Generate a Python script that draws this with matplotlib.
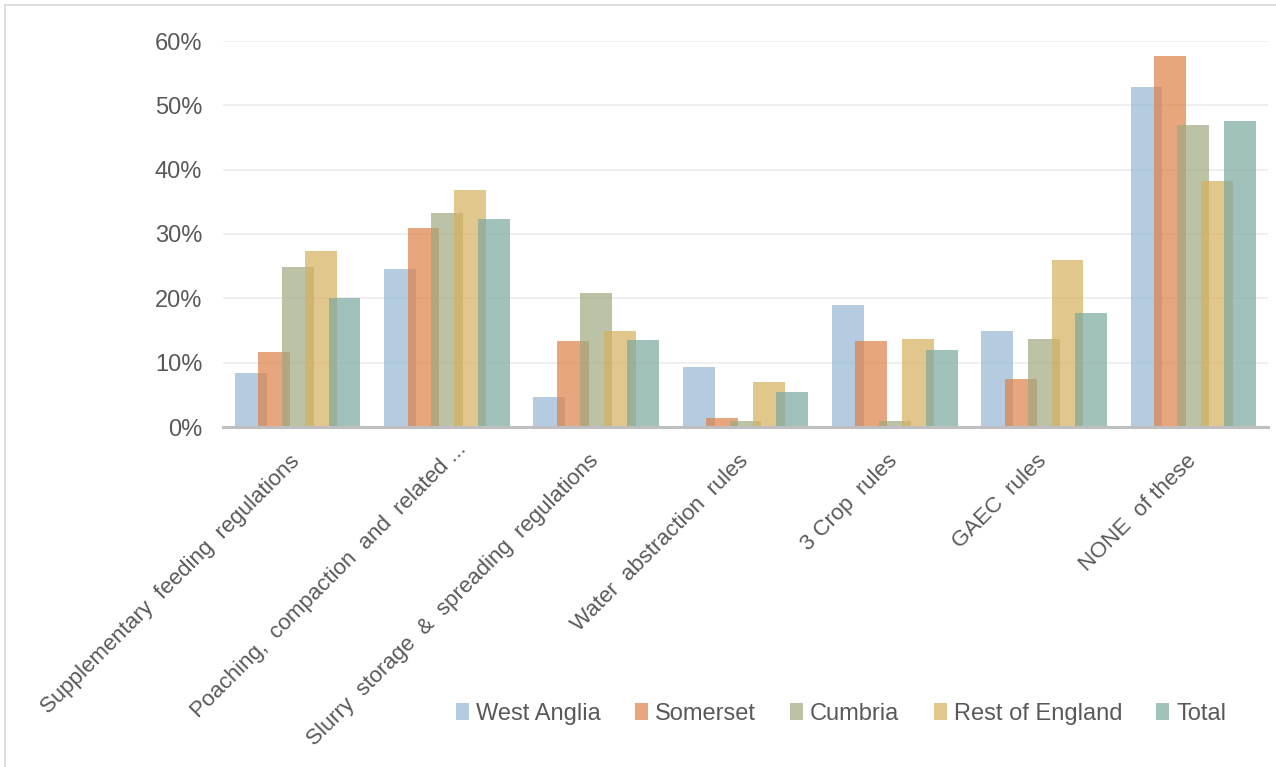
import numpy as np
import matplotlib
matplotlib.use("Agg")
from matplotlib import pyplot as plt
from matplotlib.lines import Line2D
from matplotlib.ticker import PercentFormatter
import matplotlib.transforms as mtransforms

categories = [
    "Supplementary  feeding  regulations",
    "Poaching,  compaction  and  related ...",
    "Slurry  storage  &  spreading  regulations",
    "Water  abstraction  rules",
    "3 Crop  rules",
    "GAEC  rules",
    "NONE  of these",
]
series_names = ["West Anglia", "Somerset", "Cumbria", "Rest of England", "Total"]

west_anglia = [0.084, 0.246, 0.047, 0.093, 0.190, 0.150, 0.529]
somerset = [0.117, 0.309, 0.134, 0.014, 0.134, 0.074, 0.576]
cumbria = [0.249, 0.333, 0.209, 0.010, 0.010, 0.137, 0.469]
rest_of_england = [0.273, 0.369, 0.150, 0.070, 0.137, 0.260, 0.383]
total = [0.200, 0.323, 0.136, 0.054, 0.120, 0.177, 0.476]

colors = ["#94b6d3", "#de8148", "#9fa87f", "#d7b05b", "#7aa99e"]

plt.rcParams['font.family'] = ['Liberation Sans', 'DejaVu Sans']
text_color = '#595959'

fig = plt.figure(figsize=(12.76, 7.67), dpi=100)
ax = fig.add_axes([223 / 1276, 1 - 427 / 767, (1268 - 223) / 1276, (427 - 41) / 767])

x = np.arange(len(categories))
width = 0.214
step = 0.157
all_series = [west_anglia, somerset, cumbria, rest_of_england, total]
for i, (name, vals, col) in enumerate(zip(series_names, all_series, colors)):
    ax.bar(x + (i - 2) * step, vals, width, color=col, alpha=0.7, label=name,
           zorder=3, linewidth=0)

ax.set_xlim(-0.5, len(categories) - 0.5)
ax.set_ylim(0, 0.6)
ax.set_yticks(np.arange(0, 0.61, 0.1))
ax.yaxis.set_major_formatter(PercentFormatter(1.0, decimals=0))
ax.grid(axis='y', color='#ececec', linewidth=1.2, zorder=0)

for side in ['top', 'right', 'left']:
    ax.spines[side].set_visible(False)
ax.spines['bottom'].set_color('#bfbfbf')
ax.spines['bottom'].set_linewidth(2.2)
ax.spines['bottom'].set_zorder(4)

ax.tick_params(axis='both', length=0, labelcolor=text_color)
ax.tick_params(axis='y', pad=15, labelsize=17)
ax.tick_params(axis='x', pad=17, labelsize=16)
ax.set_xticks(x)
ax.set_xticklabels(categories, rotation=45, ha='right', rotation_mode='anchor')

# nudge the rotated labels left; the truncated one sits further right
for k, lbl in enumerate(ax.get_xticklabels()):
    dx, dy = (0.09, 0.12) if k == 1 else (-0.08, 0.0)
    lbl.set_transform(lbl.get_transform() + mtransforms.ScaledTranslation(dx, dy, fig.dpi_scale_trans))

fig.legend(loc='center', bbox_to_anchor=(841 / 1276, 1 - 714 / 767), ncol=5,
           frameon=False, fontsize=17, labelcolor=text_color,
           handlelength=0.55, handleheight=0.75, handletextpad=0.3, columnspacing=1.45)

# thin outline around the chart area
fig.add_artist(Line2D([5 / 1276, 5 / 1276], [0, 1 - 5 / 767], color='#d9d9d9', linewidth=1.2))
fig.add_artist(Line2D([5 / 1276, 1], [1 - 5 / 767, 1 - 5 / 767], color='#d9d9d9', linewidth=1.2))

fig.savefig("out.png", dpi=100)
